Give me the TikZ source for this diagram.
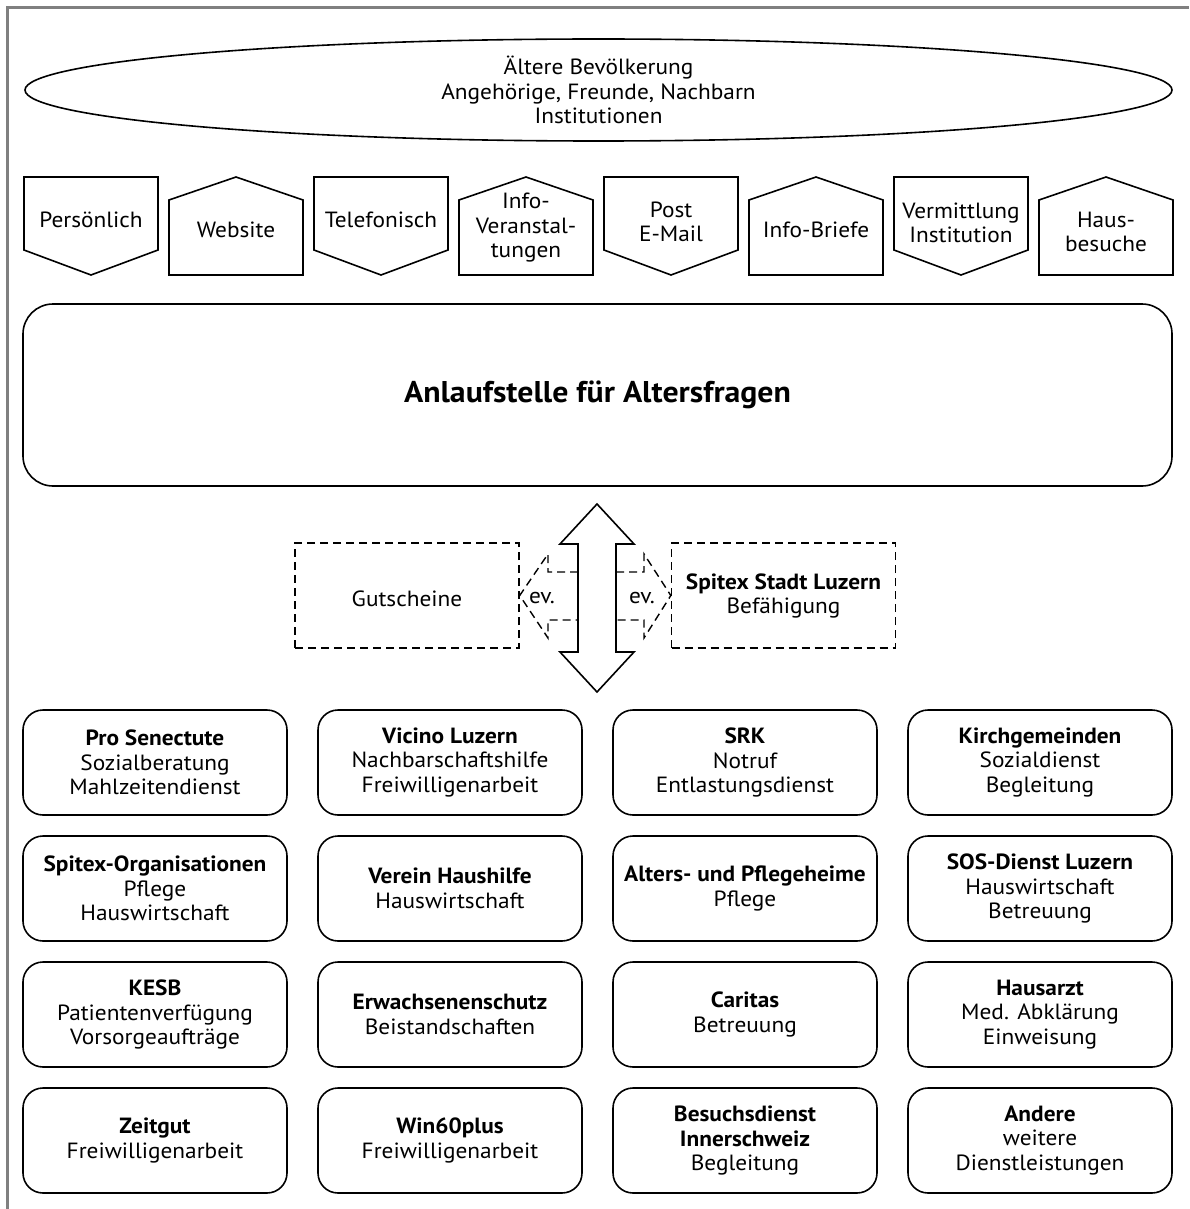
\documentclass[tikz,border=0pt]{standalone}
\usepackage{fontspec}
\setmainfont{PT Sans}[FakeStretch=1.06]
\usetikzlibrary{shapes.geometric}
\tikzset{
  txt/.style={font=\fontsize{22}{24.5}\selectfont, align=center, inner sep=0pt},
  ln/.style={line width=1.6pt, line join=miter},
  dsh/.style={line width=1.4pt, dash pattern=on 8pt off 5pt},
  gridbox/.style={ln, draw, rounded corners=20pt, minimum width=264pt, minimum height=105pt, txt},
  frame/.style={draw=black!50, line width=2.4pt}
}
\newcommand{\downpent}[1]{\draw[ln] (#1,177) -- (#1+134,177) -- (#1+134,250) -- (#1+67,275) -- (#1,250) -- cycle;}
\newcommand{\uppent}[1]{\draw[ln] (#1,200) -- (#1+67,177) -- (#1+134,200) -- (#1+134,275) -- (#1,275) -- cycle;}
\begin{document}
\begin{tikzpicture}[x=1pt,y=-1pt]
\useasboundingbox (0,0) rectangle (1189,1209);
\fill[white] (0,0) rectangle (1189,1209);
\draw[frame] (7.5,1209) -- (7.5,7.5) -- (1189,7.5);

% ellipse
\node[ln, draw, ellipse, minimum width=1147pt, minimum height=102pt, txt] (pop) at (598.5,90)
  {Ältere Bevölkerung\\Angehörige, Freunde, Nachbarn\\Institutionen};

% channel shapes
\downpent{24}  \node[txt] (c1) at (91,220) {Persönlich};
\uppent{169}   \node[txt] (c2) at (236,230) {Website};
\downpent{314} \node[txt] (c3) at (381,220) {Telefonisch};
\uppent{459}   \node[txt] (c4) at (526,228) {Info-\\Veranstal-\\tungen};
\downpent{604} \node[txt] (c5) at (671,222) {Post\\E-Mail};
\uppent{749}   \node[txt] (c6) at (816,230) {Info-Briefe};
\downpent{894} \node[txt] (c7) at (961,223) {Vermittlung\\Institution};
\uppent{1039}  \node[txt] (c8) at (1106,232) {Haus-\\besuche};

% main box
\node[ln, draw, rounded corners=30pt, minimum width=1149pt, minimum height=182pt,
  font=\fontsize{30}{33}\selectfont\bfseries] (anl) at (597.5,395) {Anlaufstelle für Altersfragen};

% double block arrow
\coordinate (atop) at (597,504);
\coordinate (abot) at (597,692);
\draw[ln] (atop) -- ++(37,40) -- ++(-18,0) -- ++(0,108) -- ++(18,0) -- (abot)
  -- ++(-37,-40) -- ++(18,0) -- ++(0,-108) -- ++(-18,0) -- cycle;

% dashed side boxes
\node[dsh, draw, minimum width=224pt, minimum height=105pt] (gut) at (407,595.5) {};
\node[txt] (gutt) at (407,599) {Gutscheine};
\node[dsh, draw, minimum width=224pt, minimum height=105pt] (spx) at (783.5,595.5) {};
\node[txt] (spxt) at (783.5,596) {\textbf{Spitex Stadt Luzern}\\Befähigung};

% dashed ev. arrows
\draw[dsh] (578,572) -- (548,572) -- (548,554) -- (gut.east) -- (548,638) -- (548,620) -- (578,620);
\draw[dsh] (616,572) -- (644,572) -- (644,554) -- (spx.west) -- (644,638) -- (644,620) -- (616,620);
\node[txt] (ev1) at (542,598) {ev.};
\node[txt] (ev2) at (642,598) {ev.};

% grid
\node[gridbox] (g11) at (155,762.5) {\textbf{Pro Senectute}\\Sozialberatung\\Mahlzeitendienst};
\node[gridbox] (g12) at (450,762.5) {\textbf{Vicino Luzern}\\Nachbarschaftshilfe\\Freiwilligenarbeit};
\node[gridbox] (g13) at (745,762.5) {\textbf{SRK}\\Notruf\\Entlastungsdienst};
\node[gridbox] (g14) at (1040,762.5) {\textbf{Kirchgemeinden}\\Sozialdienst\\Begleitung};

\node[gridbox] (g21) at (155,888.5) {\textbf{Spitex-Organisationen}\\Pflege\\Hauswirtschaft};
\node[gridbox] (g22) at (450,888.5) {\textbf{Verein Haushilfe}\\Hauswirtschaft};
\node[gridbox] (g23) at (745,888.5) {\textbf{Alters- und Pflegeheime}\\Pflege};
\node[gridbox] (g24) at (1040,888.5) {\textbf{SOS-Dienst Luzern}\\Hauswirtschaft\\Betreuung};

\node[gridbox] (g31) at (155,1014.5) {\textbf{KESB}\\Patientenverfügung\\Vorsorgeaufträge};
\node[gridbox] (g32) at (450,1014.5) {\textbf{Erwachsenenschutz}\\Beistandschaften};
\node[gridbox] (g33) at (745,1014.5) {\textbf{Caritas}\\Betreuung};
\node[gridbox] (g34) at (1040,1014.5) {\textbf{Hausarzt}\\Med. Abklärung\\Einweisung};

\node[gridbox] (g41) at (155,1140.5) {\textbf{Zeitgut}\\Freiwilligenarbeit};
\node[gridbox] (g42) at (450,1140.5) {\textbf{Win60plus}\\Freiwilligenarbeit};
\node[gridbox] (g43) at (745,1140.5) {\textbf{Besuchsdienst}\\\textbf{Innerschweiz}\\Begleitung};
\node[gridbox] (g44) at (1040,1140.5) {\textbf{Andere}\\weitere\\Dienstleistungen};
\end{tikzpicture}
\end{document}
